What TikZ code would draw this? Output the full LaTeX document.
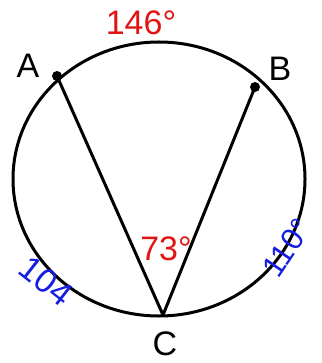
\documentclass[tikz,border=0pt]{standalone}
\usepackage{fontspec}
\setmainfont{Liberation Sans}
\usepackage{tikz}
\usetikzlibrary{positioning}
\definecolor{penred}{RGB}{225,20,20}
\definecolor{penblue}{RGB}{20,30,225}

\tikzset{
  pt/.style={circle, fill=black, inner sep=0pt, minimum size=10pt},
  lbl/.style={inner sep=0pt, font=\fontsize{34}{34}\selectfont},
  arclbl/.style={inner sep=0pt, font=\fontsize{34}{34}\selectfont}
}

\begin{document}
\begin{tikzpicture}[x=1pt, y=-1pt, line width=3pt]
  \useasboundingbox (0,0) rectangle (321,363);
  % circle
  \draw (159,179) ellipse [x radius=146pt, y radius=137pt];
  % points on the circle
  \node[pt] (pA) at (57,76) {};
  \node[pt] (pB) at (255,87) {};
  \coordinate (pC) at (163,315);
  % chords
  \draw[line join=round] (pA.center) -- (pC) -- (pB.center);
  % point labels
  \node[lbl] (lA) at (28,66) {A};
  \node[lbl] (lB) at (280,69) {B};
  \node[lbl] (lC) at (165,344) {C};
  % arc and angle measures
  \node[arclbl, text=penred] (arcAB) at (141,23) {146°};
  \node[arclbl, text=penred] (angC) at (166,249) {73°};
  \node[arclbl, text=penblue, rotate=-38] (arcAC) at (46,281) {104};
  \node[arclbl, text=penblue, rotate=56, font=\fontsize{31}{31}\selectfont] (arcBC) at (287,248) {110°};
\end{tikzpicture}
\end{document}
